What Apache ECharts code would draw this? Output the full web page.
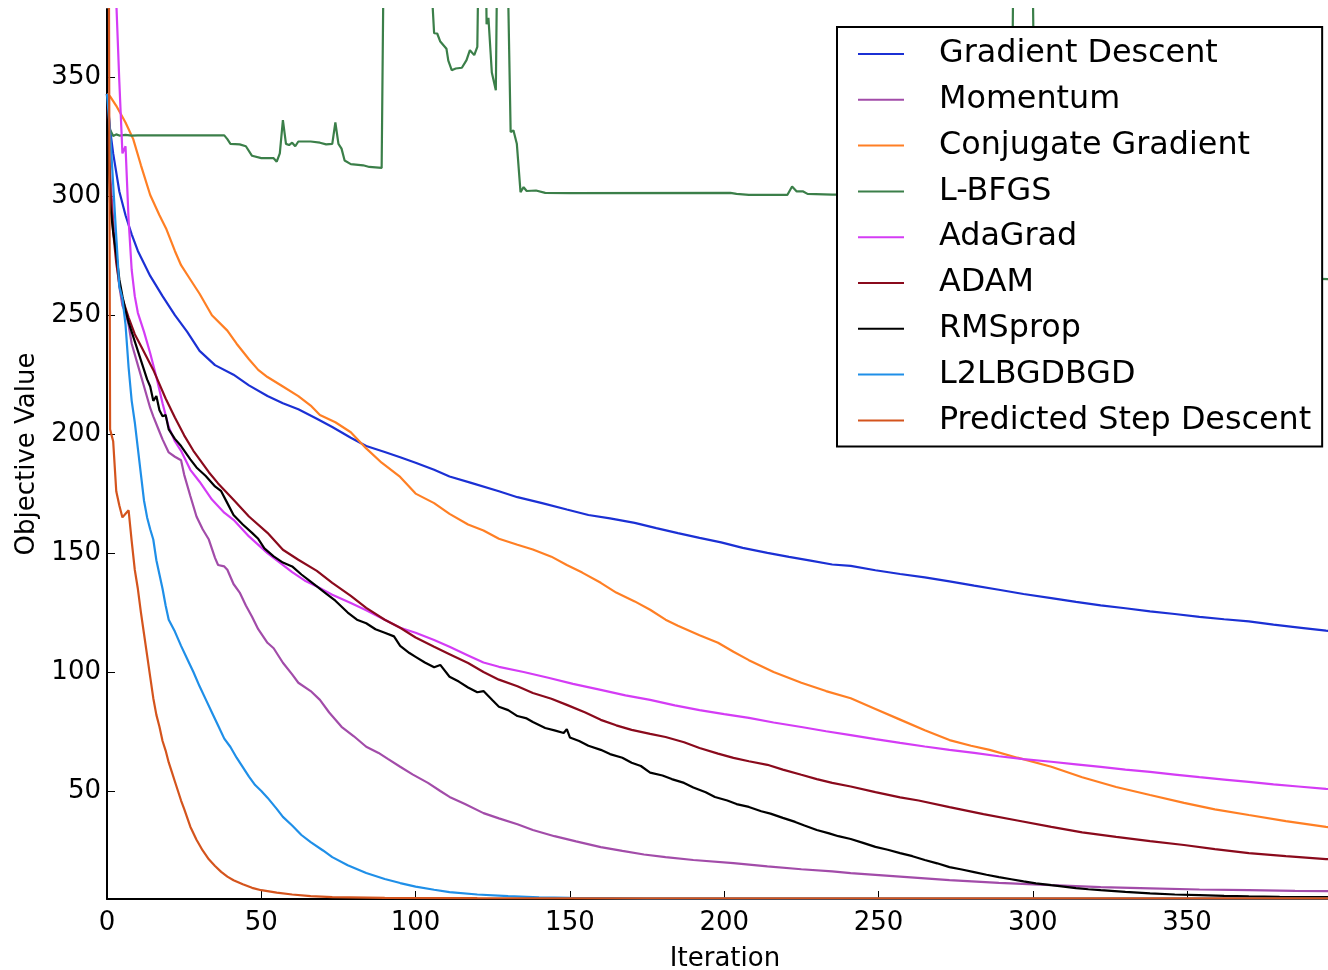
<!DOCTYPE html>
<html>
<head>
<meta charset="utf-8">
<script src="https://cdn.jsdelivr.net/npm/echarts@6/dist/echarts.min.js"></script>
<style>
html,body{margin:0;padding:0;background:#fff;}
#chart{width:1328px;height:970px;}
</style>
</head>
<body>
<div id="chart"></div>
<script>
// ---- data: [iteration, objective value] ----
const seriesNames = ["Gradient Descent","Momentum","Conjugate Gradient","L-BFGS","AdaGrad","ADAM","RMSprop","L2LBGDBGD","Predicted Step Descent"];
const xTicks = [0,50,100,150,200,250,300,350];
const yTicks = [50,100,150,200,250,300,350];

const gradientDescent = [[0,343],[1,328],[2,318],[4,302],[6,292],[8,284],[10,277],[14,266.5],[18,258],[22,250],[26,243],[30,235],[35,229],[41,225],[46,220.5],[52,216],[57,213],[62,210.5],[68,206.5],[73,203],[79,198.5],[84,195],[90,192.5],[95,190.3],[100,188],[106,185],[111,182.2],[118,179.5],[127,176],[133,173.5],[141,171],[149,168.3],[156,166],[163,164.6],[171,162.7],[178,160.5],[185,158.4],[192,156.4],[199,154.5],[206,152.2],[214,150.1],[221,148.4],[228,146.8],[235,145.2],[241,144.6],[249,142.8],[257,141.2],[265,139.8],[273,138.1],[281,136.3],[289,134.6],[297,132.8],[306,131.1],[314,129.5],[322,128],[330,126.8],[338,125.5],[346,124.4],[354,123.2],[362,122.2],[370,121.3],[378,119.9],[387,118.6],[395,117.4],[400,116.8]];

const momentum = [[0,343],[1,310],[2,290],[3,275],[4,262],[5,254],[6,251],[7,246],[8,238],[10,229],[12,220],[14,211],[15,207.5],[17,201],[18,197.8],[20,192.3],[22,190.5],[24,189],[25,183],[27,174],[29,165.4],[31,160],[33,155.7],[35,148],[36,145],[38,144.4],[39,143],[41,137],[43,133.4],[45,128],[47,123.2],[49,118],[52,112.3],[54,110],[57,103.9],[60,99],[62,95.5],[66,92],[69,88.3],[72,83],[76,77],[80,73],[84,68.6],[88,66],[91,63.5],[95,60.2],[99,57],[104,53.4],[108,50],[111,47.5],[116,44.5],[122,40.7],[127,38.5],[133,36],[138,33.6],[145,31],[152,28.8],[160,26.4],[167,24.8],[174,23.3],[181,22.2],[190,21],[203,19.7],[214,18.3],[225,17.1],[235,16.2],[241,15.5],[257,14],[273,12.5],[289,11.4],[306,10.4],[322,9.6],[338,9.1],[354,8.6],[370,8.3],[385,8],[395,7.9],[400,7.8]];

const conjugateGradient = [[0,343],[1,342],[3,338],[6,331],[8.5,324],[11,313],[14,300.5],[17,292],[19.3,286],[22,277],[24,271],[27,265],[30,259],[34,250],[39,243.5],[42,238],[46,231.5],[49,227],[52,224],[57,220],[62,216],[66,212],[69,208],[74,205],[79,200.8],[84,194],[89,188],[95,182],[100,175],[106,171],[111,166.5],[117,162],[122,159.5],[127,156],[133,153.5],[138,151.5],[144,148.5],[149,145],[154,141.8],[160,137.5],[165,133.4],[171,129.7],[176,126.2],[181,122],[185,119.5],[192,115.5],[198,112.3],[203,108.5],[208,105],[216,100],[225,95.5],[233,92],[241,89],[249,84.5],[257,80],[265,75.5],[273,71.4],[280,69],[286,67.3],[295,64],[306,60.2],[316,55.8],[327,51.7],[338,48.3],[349,45],[359,42.3],[370,39.9],[382,37.3],[395,34.9],[400,34]];

const lbfgs = [[1,328],[2,325.3],[3,326],[4,325.5],[6,325.8],[8,325.5],[10,325.6],[38,325.6],[39,324],[40,322],[43,321.8],[45,321],[47,317],[50,316],[54,316],[55,314.5],[56,318],[57,332],[58,322],[59,321.5],[60,322.5],[61,321],[62,323],[66,323],[69,322.5],[71,321.8],[73,322],[74,331],[75,322],[76,320],[77,315],[79,313.5],[83,313],[85,312.3],[89,311.9],[90,450],[104,450],[105,392],[106,368.5],[107,368.4],[108,365],[110,362],[110.6,357],[111.7,353],[113,353.7],[115,354],[116.5,357.2],[117.6,361.4],[119,359.3],[120,362.8],[120.6,420],[122.6,420],[123,372.3],[123.6,375],[124.1,375.8],[124.7,352],[126,344.5],[126.6,420],[129.5,420],[130.8,327],[131.7,327.7],[132.8,322.1],[134,301.7],[135,303.8],[136,302.2],[139,302.4],[142,301.4],[150,301.3],[202,301.4],[204,301],[208,300.6],[220.5,300.6],[222,304.1],[223.5,302],[225.6,302],[227,301],[235,300.7],[292,300.7],[293,300.3],[294,440],[299.5,440],[301,285],[310,272],[330,268],[360,266],[393,265.3],[400,265]];

const adaGrad = [[0,1100],[1,800],[2,560],[3,382],[4,348],[5,318],[6,321],[7,290],[8,269],[9,258],[10,251],[11,247],[12,243],[14,234],[16,224],[18,213],[20,203],[22,197],[24,193],[27,185],[30,180],[34,172.5],[38,167],[41,164],[46,157],[52,150],[56,146],[60,142],[64,138.5],[68,136],[73,132.5],[79,129],[84,126],[90,122],[95,118.6],[100,116.5],[106,113.5],[111,110.6],[117,107],[122,104],[127,102.2],[135,100],[143,97.6],[151,95],[160,92.5],[168,90.2],[176,88.3],[184,86],[192,84],[200,82.3],[208,80.7],[216,78.8],[225,76.9],[233,75.1],[241,73.5],[249,71.8],[257,70.2],[265,68.7],[273,67.3],[281,66],[289,64.6],[297,63.4],[306,62.3],[314,61.2],[322,60.1],[330,59],[338,58],[346,56.9],[354,55.8],[362,54.8],[370,53.8],[378,52.8],[386,51.9],[395,50.9],[400,50.4]];

const adam = [[0,343],[1,305],[2,285],[3,272],[4,263],[5,257],[7,249],[9,242],[11,237],[13,232],[15,227],[17,221],[19,215],[22,207],[25,199.5],[28,193],[30,189.4],[33,184],[36,179.3],[41,172.4],[46,165.4],[52,158.5],[57,151.4],[62,147.2],[68,142.5],[73,137.5],[79,132],[84,127],[90,122],[95,118.6],[100,114.5],[106,110.6],[111,107.5],[117,103.8],[122,100],[127,96.8],[133,94],[138,91.2],[144,88.8],[149,86.2],[155,83],[160,79.9],[165,77.6],[170,75.7],[176,74],[181,72.7],[187,70.5],[192,68.1],[198,65.7],[203,63.9],[208,62.5],[214,61],[219,59],[225,56.8],[230,55],[235,53.4],[241,51.9],[249,49.5],[257,47.3],[263,46],[273,43.2],[284,40.3],[295,37.6],[306,34.9],[316,32.6],[327,30.7],[338,28.9],[349,27.3],[359,25.6],[370,23.9],[382,22.6],[395,21.4],[400,21]];

const rmsprop = [[0,343],[1,297],[2,285],[3,276],[4,265],[5,258],[6,252],[7,247],[8,243],[10,235],[12,227],[13,223],[14,220],[15,214],[16,216],[17,210],[18,207.5],[19,208],[20,202],[22,198],[24,195],[27,189.4],[29,186],[32,182.4],[35,178],[37,176],[39,171],[41,166],[44,162],[47,158.5],[49,156],[51,152],[54,148.6],[57,146],[60,144.4],[63,141],[66,138],[68,136],[71,133],[74,130],[78,125],[81,122],[84,120.5],[87,118],[90,116.5],[93,115],[95,111],[98,108],[100,106.4],[103,104],[106,102],[108,103],[111,98],[114,96],[117,93.5],[120,91.5],[122,92],[125,88],[127,85.4],[130,84],[133,81.5],[136,80.5],[138,79],[142,76.5],[145,75.5],[148,74.4],[149,76],[150,72.5],[153,71],[156,69],[160,67.3],[163,65.5],[167,64],[170,61.9],[173,60.5],[176,57.7],[180,56.5],[183,55],[187,53.4],[190,51.5],[194,49.5],[197,47.5],[201,46],[204,44.5],[208,43.3],[212,41.5],[215,40.5],[219,38.7],[223,37],[226,35.5],[230,33.6],[234,32.2],[237,31],[241,29.8],[245,28.2],[249,26.5],[253,25.3],[257,23.9],[261,22.6],[265,21],[269,19.6],[273,18],[277,17],[281,15.9],[285,14.8],[289,13.8],[293,12.9],[297,12],[301,11.2],[306,10.4],[310,9.8],[314,9.2],[318,8.7],[322,8.3],[330,7.6],[338,7],[346,6.5],[354,6.2],[362,5.9],[370,5.7],[380,5.5],[395,5.4],[400,5.3]];

const l2lbgdbgd = [[0,343],[1,327],[2,305],[3,283],[4,262],[5,257],[6,246],[7,228],[8,214],[9,205],[10,194],[11,183],[12,172],[13,165],[14,160],[15,155.7],[16,147],[17,141],[18,135],[19,128],[20,122],[22,117],[24,111],[26,105.5],[28,100],[30,94],[32,88.5],[34,83],[36,77.5],[38,72],[40,68.5],[42,64],[44,60],[46,56],[48,52.5],[50,50],[52,47.2],[55,42.5],[57,39.1],[60,35.5],[63,31.5],[66,28.5],[70,25],[73,22.2],[78,18.8],[84,15.5],[90,13],[95,11.3],[100,9.8],[106,8.5],[111,7.5],[120,6.5],[130,5.8],[140,5.3],[150,5.1],[175,4.9],[200,4.85],[400,4.8]];

const predictedStep = [[0,700],[1,202],[2,197],[3,176],[4,170],[5,165],[6,166.5],[7,168],[8,155],[9,143],[10,135],[11,125],[12,116],[13,107],[14,98],[15,89],[16,82],[17,77],[18,71],[19,67],[20,62],[21,58],[22,54],[23,50],[24,46],[25,42.5],[27,35],[29,29.5],[31,25],[33,21.3],[35,18.5],[37,16],[39,14],[41,12.5],[44,10.8],[47,9.3],[50,8.3],[55,7.3],[60,6.5],[66,5.8],[73,5.4],[90,5.1],[120,5.0],[400,4.9]];

const seriesData = [gradientDescent, momentum, conjugateGradient, lbfgs, adaGrad, adam, rmsprop, l2lbgdbgd, predictedStep];
const colors = ["#1b30d4","#a24ca9","#ff7f24","#3b7f49","#d43cf5","#8a0a1c","#000000","#1f8fe8","#d4541d"];

const FONT = "DejaVu Sans";
const chart = echarts.init(document.getElementById('chart'), null, {renderer:'canvas'});
chart.setOption({
  animation: false,
  backgroundColor: '#ffffff',
  grid: {left: 107, right: 0, top: 9, bottom: 71, containLabel: false, outerBoundsMode: 'none'},
  xAxis: {
    type: 'value', min: 0, max: 395.66,
    name: 'Iteration', nameLocation: 'middle', nameGap: 47,
    nameTextStyle: {fontFamily: FONT, fontSize: 26, color: '#000', padding: [0, 0, 0, 15]},
    axisLine: {show: true, onZero: false, lineStyle: {color: '#000', width: 2}},
    axisTick: {show: true, inside: true, length: 8, lineStyle: {color: '#000', width: 1}, customValues: xTicks},
    axisLabel: {fontFamily: FONT, fontSize: 26, color: '#000', margin: 11, customValues: xTicks},
    splitLine: {show: false}
  },
  yAxis: {
    type: 'value', min: 4.6, max: 378.7,
    name: 'Objective Value', nameLocation: 'middle', nameGap: 62, nameRotate: 90,
    nameTextStyle: {fontFamily: FONT, fontSize: 26, color: '#000'},
    axisLine: {show: true, onZero: false, lineStyle: {color: '#000', width: 2}},
    axisTick: {show: true, inside: true, length: 8, lineStyle: {color: '#000', width: 1}, customValues: yTicks},
    axisLabel: {fontFamily: FONT, fontSize: 26, color: '#000', margin: 6, customValues: yTicks},
    splitLine: {show: false}
  },
  legend: {
    show: true, orient: 'vertical', left: 837, top: 27,
    data: seriesNames,
    icon: 'rect', itemWidth: 46, itemHeight: 2, itemGap: 13.8,
    padding: [11, 11, 10, 21],
    backgroundColor: '#ffffff', borderColor: '#000', borderWidth: 2,
    selectedMode: false,
    textStyle: {fontFamily: FONT, fontSize: 31.8, color: '#000', lineHeight: 32, padding: [0, 0, 0, 30]},
    z: 10
  },
  series: seriesData.map((d, i) => ({
    name: seriesNames[i], type: 'line', data: d,
    showSymbol: false, symbol: 'none', clip: true,
    lineStyle: {color: colors[i], width: 2.2},
    itemStyle: {color: colors[i]},
    emphasis: {disabled: true},
    z: 2 + i * 0.01
  }))
});
</script>
</body>
</html>
